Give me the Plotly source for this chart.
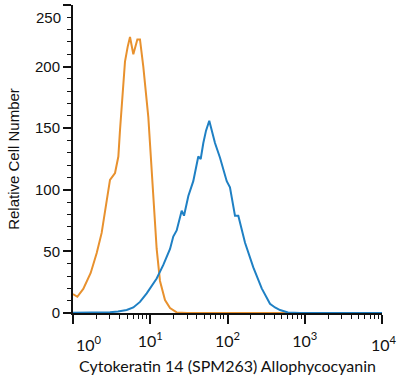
import plotly.graph_objects as go

# Isotype control (orange) histogram
iso_x = [1.00, 1.138, 1.358, 1.694, 2.028, 2.350, 2.729, 3.013, 3.499, 3.864, 4.055,
         4.710, 5.10, 5.470, 6.039, 6.808, 7.362, 8.128, 9.441, 10.42, 12.11, 13.37,
         15.52, 18.03, 21.98, 30.0, 10000.0]
iso_y = [15.4, 13.2, 19.5, 32.5, 48.7, 65, 91, 108, 113.6, 127, 148,
         204, 216, 224, 210, 222, 222, 200, 159, 119, 52, 26,
         10.5, 4, 0.5, 0.1, 0.1]

# Cytokeratin 14 (SPM263) stained (blue) histogram
ck_x = [1.00, 2.239, 3.013, 3.828, 4.955, 6.039, 7.362, 8.995, 10.54, 12.11, 14.76,
        18.03, 19.86, 21.98, 25.53, 27.35, 31.12, 36.06, 41.88, 44.98, 48.64, 52.72,
        58.08, 62.95, 68.87, 79.98, 97.72, 107.6, 125.0, 138.0, 168.7, 215.8, 277.3,
        354.8, 412.1, 478.6, 606.7, 868.9, 10000.0]
ck_y = [0.3, 0.3, 0.6, 1.2, 2.4, 4.5, 9, 16, 22, 28, 39,
        52, 62, 67, 83, 79, 95, 107, 127, 125, 138, 148,
        156, 148, 138, 126, 107, 102, 79, 79, 57, 37, 20,
        7.5, 4.5, 2.4, 0.4, 0.1, 0.1]

x_major = [1, 10, 100, 1000, 10000]
x_labels = ["", "10<sup>1</sup>", "10<sup>2</sup>", "10<sup>3</sup>", ""]
x_minor = [k * d for d in [1, 10, 100, 1000] for k in range(2, 10)]
y_major = [0, 50, 100, 150, 200, 250]
y_labels = ["0", "50", "100", "150", "200", ""]

ORANGE = "#E8912E"
BLUE = "#1F80C4"
tick_font = dict(family="Lato, Liberation Sans, sans-serif", size=16, color="#111")
ytick_font = dict(family="Liberation Sans, Arial, sans-serif", size=15, color="#111")

fig = go.Figure()
fig.add_trace(go.Scatter(x=iso_x, y=iso_y, mode="lines",
                         line=dict(color=ORANGE, width=2), showlegend=False))
fig.add_trace(go.Scatter(x=ck_x, y=ck_y, mode="lines",
                         line=dict(color=BLUE, width=2), showlegend=False))

fig.update_layout(
    width=400, height=383,
    margin=dict(l=73, r=18, t=5, b=70),
    paper_bgcolor="white", plot_bgcolor="white",
    xaxis=dict(
        type="log", range=[0, 4], showgrid=False, zeroline=False,
        showline=True, linecolor="#111", linewidth=2,
        ticks="outside", ticklen=9, tickwidth=1.5, tickcolor="#111",
        tickmode="array", tickvals=x_major, ticktext=x_labels,
        tickfont=tick_font, ticklabelstandoff=4,
        minor=dict(tickmode="array", tickvals=x_minor, ticks="outside",
                   ticklen=4, tickwidth=1.2, tickcolor="#111", showgrid=False),
        title=dict(text="Cytokeratin 14 (SPM263) Allophycocyanin",
                   font=dict(family="Lato, Liberation Sans, sans-serif", size=16, color="#111"),
                   standoff=12),
    ),
    yaxis=dict(
        range=[0, 250], showgrid=False, zeroline=False,
        showline=True, linecolor="#111", linewidth=2,
        ticks="outside", ticklen=8, tickwidth=1.5, tickcolor="#111",
        tickmode="array", tickvals=y_major, ticktext=y_labels,
        tickfont=ytick_font,
        minor=dict(dtick=10, ticks="outside", ticklen=4, tickwidth=1.2,
                   tickcolor="#111", showgrid=False),
        title=dict(text="Relative Cell Number",
                   font=dict(family="Liberation Sans, Arial, sans-serif", size=15, color="#111"),
                   standoff=12),
    ),
)

# edge tick labels, nudged inward as in the reference
fig.add_annotation(x=0, y=250, xref="x", yref="y", text="250", showarrow=False,
                   xanchor="right", yanchor="middle", xshift=-10, yshift=-12,
                   font=ytick_font)
fig.add_annotation(x=0, y=0, xref="x", yref="paper", text="10<sup>0</sup>", showarrow=False,
                   xanchor="center", yanchor="top", xshift=16, yshift=-18,
                   font=tick_font)
fig.add_annotation(x=4, y=0, xref="x", yref="paper", text="10<sup>4</sup>", showarrow=False,
                   xanchor="center", yanchor="top", xshift=2, yshift=-18,
                   font=tick_font)

fig.write_html("out.html", config={"displayModeBar": False},
               post_script="document.body.style.margin='0';")
